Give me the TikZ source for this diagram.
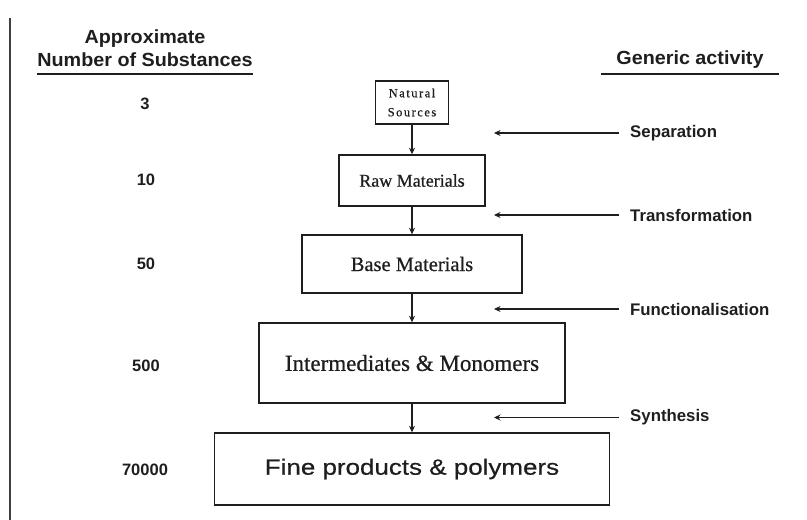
\documentclass[tikz,border=0pt]{standalone}
\usepackage{fontspec}
\setmainfont{Liberation Serif}
\newfontfamily\hdrfont[FakeStretch=1.04]{Liberation Sans Bold}
\newfontfamily\actfont{Liberation Sans Bold}
\newfontfamily\numfont{Liberation Sans Bold}
\newfontfamily\finefont[FakeStretch=1.18,FakeBold=0.6]{Liberation Sans}
\newfontfamily\boxfont[FakeBold=0.6]{Liberation Serif}
\newfontfamily\natfont[LetterSpace=12,FakeBold=0.6]{Liberation Serif}
\usetikzlibrary{arrows.meta}
\definecolor{ink}{HTML}{1E1E1E}
\begin{document}
\begin{tikzpicture}[x=1pt,y=-1pt,
  box/.style={draw=ink, line width=1.4pt, inner sep=0pt, align=center, text=ink},
  flow/.style={draw=ink, -{Stealth[length=6.5pt,width=6pt]}, line width=1.2pt},
  act/.style={anchor=west, inner xsep=0pt, text=ink, font=\actfont\fontsize{16.8}{20}\selectfont},
  num/.style={text=ink, font=\numfont\fontsize{16.5}{19}\selectfont},
  hdr/.style={text=ink, align=center, font=\hdrfont\fontsize{19}{23}\selectfont},
  rule/.style={draw=ink, line width=1.8pt}]
\useasboundingbox (0,0) rectangle (807,520);

% left border line
\coordinate (lt) at (10,18);
\coordinate (lb) at (10,520);
\draw[line width=2pt, ink!85] (lt) -- (lb);

% headers
\node[hdr] (h1) at (145,48.5) {Approximate\\Number of Substances};
\coordinate (u1a) at (37,74);
\coordinate (u1b) at (253,74);
\draw[rule] (u1a) -- (u1b);
\node[hdr] (h2) at (690,60) {Generic activity};
\coordinate (u2a) at (601,74);
\coordinate (u2b) at (779,74);
\draw[rule] (u2a) -- (u2b);

% numbers
\node[num] (n1) at (145,104) {3};
\node[num] (n2) at (146,180) {10};
\node[num] (n3) at (146,264) {50};
\node[num] (n4) at (146,366) {500};
\node[num] (n5) at (145,470) {70000};

% boxes
\node[box, minimum width=73pt, minimum height=43pt, font=\natfont\fontsize{12.5}{19}\selectfont] (nat) at (412,102.5) {Natural\\Sources};
\node[box, minimum width=146pt, minimum height=51pt, font=\boxfont\fontsize{18}{21}\selectfont] (raw) at (412,180.5) {Raw Materials};
\node[box, minimum width=220pt, minimum height=58pt, font=\boxfont\fontsize{20.5}{24}\selectfont] (base) at (412,264) {Base Materials};
\node[box, minimum width=306pt, minimum height=80pt, font=\boxfont\fontsize{23}{27}\selectfont] (inter) at (412,363) {Intermediates \& Monomers};
\node[box, minimum width=395pt, minimum height=72pt, font=\finefont\fontsize{22}{26}\selectfont] (fine) at (412,469) {Fine products \& polymers};

% flow arrows
\draw[flow] (nat) -- (raw);
\draw[flow] (raw) -- (base);
\draw[flow] (base) -- (inter);
\draw[flow] (inter) -- (fine);

% activities
\node[act] (sep) at (630,133) {Separation};
\node[act] (tra) at (630,215) {Transformation};
\node[act] (fun) at (630,309) {Functionalisation};
\node[act] (syn) at (630,417.5) {Synthesis};
\coordinate (sepT) at (494,133);
\coordinate (traT) at (494,215);
\coordinate (funT) at (494,309);
\coordinate (synT) at (494,417.5);
\draw[flow, shorten <=11pt] (sep.west) -- (sepT);
\draw[flow, shorten <=11pt] (tra.west) -- (traT);
\draw[flow, shorten <=11pt] (fun.west) -- (funT);
\draw[flow, shorten <=11pt] (syn.west) -- (synT);
\end{tikzpicture}
\end{document}
